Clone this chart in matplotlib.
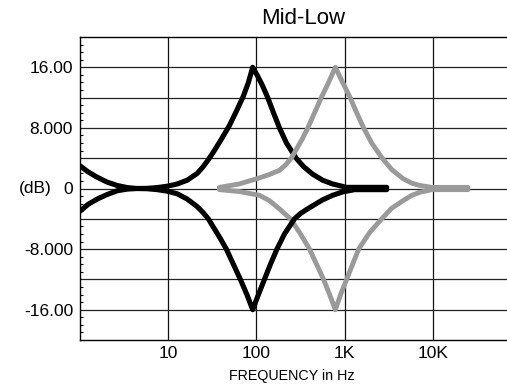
import numpy as np
import matplotlib
matplotlib.use('Agg')
import matplotlib.pyplot as plt
from matplotlib.ticker import FixedLocator, MultipleLocator, NullFormatter

plt.rcParams['font.family'] = ['Liberation Sans', 'DejaVu Sans']

# values (Hz, dB)
black_boost_f = [1.0, 1.233, 1.561, 2.027, 2.634, 3.42, 4.44, 5.77, 7.50, 9.74,
                 12.66, 16.44, 21.36, 24.98, 28.48, 33.32, 40.03, 49.34, 59.26, 71.16,
                 81.13, 90.78, 102.7, 117.0, 134.4, 156.1, 182.6, 219.2, 282.5, 342.0,
                 432.9, 562.3, 730.6, 1054, 1299, 3001]
black_boost_db = [3.0, 2.2, 1.5, 0.85, 0.4, 0.12, 0.0, 0.02, 0.12, 0.3,
                  0.6, 1.1, 2.0, 2.9, 3.8, 5.0, 6.5, 8.3, 10.2, 12.2,
                  14.0, 16.0, 14.9, 13.6, 12.0, 10.0, 8.0, 6.0, 4.0, 2.9,
                  1.9, 1.1, 0.6, 0.15, 0.15, 0.15]

black_cut_f = [1.0, 1.233, 1.561, 2.027, 2.634, 3.42, 4.44, 5.77, 7.50, 9.74,
               12.66, 16.44, 21.36, 24.98, 28.48, 33.32, 38.98, 45.62, 54.78, 65.79,
               77.98, 90.78, 105.4, 123.3, 144.3, 171.0, 208.1, 270.3, 316.2, 367.1,
               476.9, 562.3, 730.6, 949.0, 1299, 3001]
black_cut_db = [-3.0, -2.1, -1.4, -0.8, -0.3, -0.08, 0.0, -0.03, -0.15, -0.35,
                -0.7, -1.4, -2.4, -3.2, -4.0, -5.3, -6.6, -8.0, -10.0, -12.0,
                -14.0, -16.0, -14.0, -12.0, -10.0, -8.0, -6.0, -4.0, -3.3, -2.8,
                -2.0, -1.5, -0.9, -0.45, -0.15, -0.15]

gray_boost_f = [37.97, 64.1, 108.2, 140.5, 182.6, 213.6, 248.0, 284.8, 333.2, 382.8,
                456.1, 543.6, 658.0, 785, 949.0, 1155, 1369, 1644, 2027, 2668,
                3420, 4598, 5771, 7116, 9741, 24990]
gray_boost_db = [0.15, 0.6, 1.4, 1.85, 2.4, 3.1, 4.0, 5.2, 6.6, 8.0,
                 10.0, 12.0, 14.0, 16.0, 14.0, 12.0, 10.0, 8.0, 6.0, 4.0,
                 2.5, 1.3, 0.7, 0.4, 0.15, 0.15]

gray_cut_f = [37.97, 64.1, 108.2, 140.5, 182.6, 243.4, 308.1, 400.2, 480.8, 577.3,
              675.4, 785, 900.6, 1054, 1233, 1443, 1924, 2634, 3420, 4598,
              5771, 7116, 9741, 24990]
gray_cut_db = [-0.15, -0.4, -0.9, -1.6, -2.7, -4.0, -5.8, -8.0, -10.0, -12.0,
               -14.0, -16.0, -14.0, -12.0, -10.0, -8.0, -5.8, -4.0, -2.6, -1.6,
               -0.9, -0.5, -0.15, -0.15]

x_ticks = [10, 100, 1000, 10000]
x_labels = ['10', '100', '1K', '10K']
y_ticks = [-16, -12, -8, -4, 0, 4, 8, 12, 16]
y_labels = ['-16.00', '', '-8.000', '', '0', '', '8.000', '', '16.00']

W, H = 507, 390
fig = plt.figure(figsize=(W / 100, H / 100), dpi=100)
ax = fig.add_axes([80 / W, 1 - 340 / H, 1 - 80 / W, (340 - 37) / H])

ax.set_xscale('log')
ax.set_xlim(1, 10 ** (1 + (507 - 169) / 88))
ax.set_ylim(-20, 20)

# grid
for x in x_ticks:
    ax.axvline(x, color='#111111', lw=0.9, zorder=1)
for y in y_ticks:
    ax.axhline(y, color='#222222', lw=0.9, zorder=1)

style = dict(solid_capstyle='round', solid_joinstyle='round')
ax.plot(gray_cut_f, gray_cut_db, color='#9a9a9a', lw=3.5, zorder=3, **style)
ax.plot(black_cut_f, black_cut_db, color='black', lw=3.7, zorder=4, **style)
ax.plot(black_boost_f, black_boost_db, color='black', lw=3.7, zorder=5, **style)
ax.plot(gray_boost_f, gray_boost_db, color='#9a9a9a', lw=3.5, zorder=6, **style)

ax.xaxis.set_major_locator(FixedLocator(x_ticks))
ax.set_xticklabels(x_labels)
ax.xaxis.set_minor_locator(FixedLocator([]))
ax.xaxis.set_minor_formatter(NullFormatter())
ax.set_yticks(y_ticks)
ax.set_yticklabels(y_labels)
ax.yaxis.set_minor_locator(MultipleLocator(1))

ax.tick_params(axis='x', which='both', length=0, pad=4, labelsize=12.5)
ax.tick_params(axis='y', which='major', length=0, pad=5, labelsize=12.5)
ax.tick_params(axis='y', which='minor', direction='in', length=2.5, width=0.8, left=True, right=False)

ax.spines['right'].set_visible(False)
for s in ['left', 'top', 'bottom']:
    ax.spines[s].set_linewidth(1.0)
    ax.spines[s].set_color('black')

fig.text(303.5 / W, 1 - 19 / H, 'Mid-Low', ha='center', va='center', fontsize=16)
fig.text(35 / W, 1 - 188 / H, '(dB)', ha='center', va='center', fontsize=12.5)
fig.text(292 / W, 1 - 376 / H, 'FREQUENCY in Hz', ha='center', va='center', fontsize=10.3)

fig.savefig('out.png', dpi=100)
